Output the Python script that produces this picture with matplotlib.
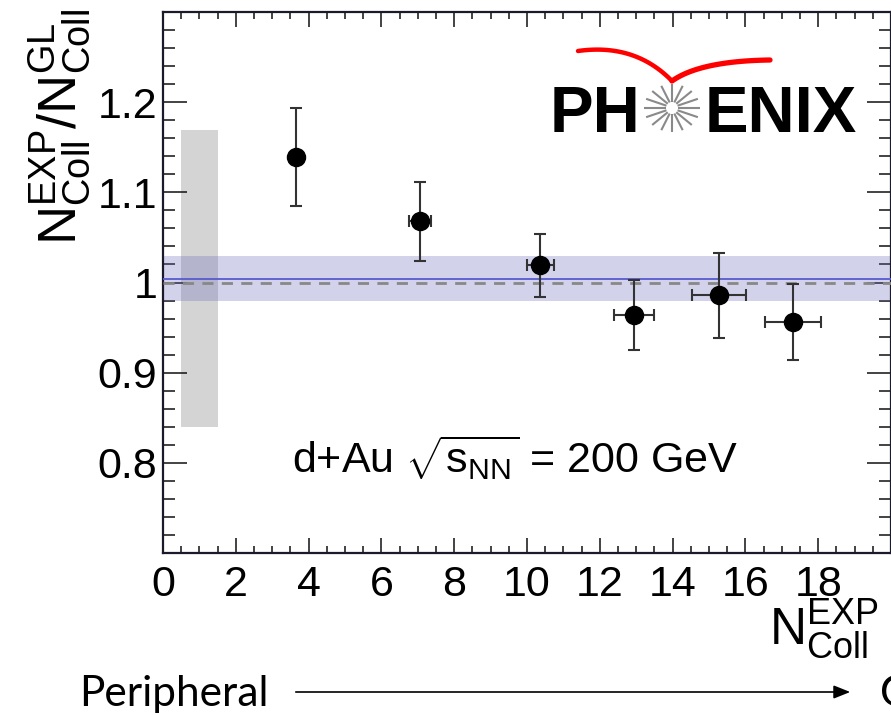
import numpy as np
import matplotlib
matplotlib.use("Agg")
import matplotlib.pyplot as plt

plt.rcParams['font.family'] = ['Liberation Sans', 'DejaVu Sans']
plt.rcParams['mathtext.fontset'] = 'custom'
plt.rcParams['mathtext.rm'] = 'Liberation Sans'
plt.rcParams['mathtext.it'] = 'Liberation Sans'
plt.rcParams['mathtext.bf'] = 'Liberation Sans:bold'

ncoll = [3.66, 7.07, 10.37, 12.94, 15.27, 17.30]
ncoll_err = [0.15, 0.30, 0.38, 0.54, 0.74, 0.77]
ratio = [1.139, 1.068, 1.019, 0.964, 0.986, 0.956]
ratio_err = [0.054, 0.044, 0.035, 0.039, 0.047, 0.042]

fit_value = 1.004
fit_err = 0.025
glob_x = [0.5, 1.5]
glob_lo, glob_hi = 0.840, 1.169

xticks = [0, 2, 4, 6, 8, 10, 12, 14, 16, 18, 20]
xticklabels = ['0', '2', '4', '6', '8', '10', '12', '14', '16', '18', '']
yticks = [0.8, 0.9, 1.0, 1.1, 1.2]
yticklabels = ['0.8', '0.9', '1', '1.1', '1.2']

W, H = 891, 715
fig = plt.figure(figsize=(W / 100, H / 100), dpi=100)
ax = fig.add_axes([163 / W, 1 - 553 / H, (W - 163) / W, (553 - 12) / H])

ax.fill_between(glob_x, glob_lo, glob_hi, color='#d4d4d4', lw=0, zorder=1)
ax.axhspan(fit_value - fit_err, fit_value + fit_err, color=(0.42, 0.42, 0.75), alpha=0.3, lw=0, zorder=2)
ax.axhline(fit_value, color='#5a5ad0', lw=1.3, zorder=3)
ax.axhline(1.0, color='#888888', lw=2, ls=(0, (4, 3)), zorder=3)

ax.errorbar(ncoll, ratio, xerr=ncoll_err, yerr=ratio_err, fmt='o', color='black',
            ms=13, ecolor='#333333', elinewidth=1.5, capsize=4, capthick=1.5, zorder=5)

ax.set_xlim(0, 20)
ax.set_ylim(0.7, 1.3)
ax.set_xticks(xticks)
ax.set_xticklabels(xticklabels)
ax.set_yticks(yticks)
ax.set_yticklabels(yticklabels)
ax.set_xticks(np.arange(0, 20.01, 0.5), minor=True)
ax.set_yticks(np.arange(0.7, 1.301, 0.02), minor=True)
ax.tick_params(axis='both', which='both', direction='in', top=True, right=True,
               color='#222222', width=1.2, labelsize=31)
ax.tick_params(axis='x', which='major', length=11, pad=9)
ax.tick_params(axis='x', which='minor', length=5)
ax.tick_params(axis='y', which='major', length=17, pad=4)
ax.tick_params(axis='y', which='minor', length=8.5)
for s in ax.spines.values():
    s.set_linewidth(1.6)
    s.set_color('#1a1a2a')

# overlay in pixel coordinates for labels and logo
ov = fig.add_axes([0, 0, 1, 1], zorder=10)
ov.set_xlim(0, W)
ov.set_ylim(H, 0)
ov.axis('off')
ov.patch.set_alpha(0)

ov.text(60, 9, r'$\mathrm{N_{Coll}^{EXP}/N_{Coll}^{GL}}$', rotation=90, ha='center', va='top', fontsize=39)
ov.text(879, 597, r'$\mathrm{N_{Coll}^{EXP}}$', ha='right', va='top', fontsize=37)
ov.text(292, 473, r'd+Au $\sqrt{\mathrm{s_{NN}}}$ = 200 GeV', ha='left', va='baseline', fontsize=31)

# PHENIX logo
ov.text(550, 132, 'PH', ha='left', va='baseline', fontsize=47, fontweight='bold')
ov.text(705, 132, 'ENIX', ha='left', va='baseline', fontsize=47, fontweight='bold')
cx, cy = 672, 108
for a in np.arange(0, 2 * np.pi, np.pi / 8):
    ov.plot([cx + 6 * np.cos(a), cx + 28 * np.cos(a)], [cy + 6 * np.sin(a), cy + 24 * np.sin(a)],
            color='#8a8a8a', lw=1.5, solid_capstyle='butt')
t = np.linspace(0, 1, 40)
def bez(p0, p1, p2):
    return [(1 - t) ** 2 * p0[i] + 2 * (1 - t) * t * p1[i] + t ** 2 * p2[i] for i in range(2)]
lx, ly = bez((578, 51), (635, 43), (672, 81))
rx, ry = bez((672, 81), (700, 61), (770, 60))
ov.plot(lx, ly, color='red', lw=3.2, solid_capstyle='round')
ov.plot(rx, ry, color='red', lw=3.8, solid_capstyle='round')

# centrality arrow
ov.text(79, 706, 'Peripheral', family='Lato', fontsize=30.5, ha='left', va='baseline')
ov.text(880, 706, 'Central', family='Lato', fontsize=30.5, ha='left', va='baseline')
ov.annotate('', xy=(853, 692), xytext=(293, 692),
            arrowprops=dict(arrowstyle='-|>,head_length=0.5,head_width=0.2', color='black',
                            lw=1.2, mutation_scale=20))

fig.savefig('out.png', dpi=100)
